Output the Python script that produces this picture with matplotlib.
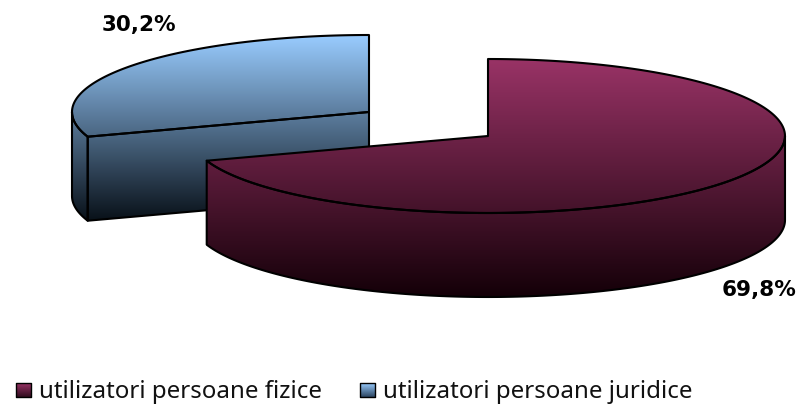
import numpy as np
import matplotlib
matplotlib.use("Agg")
import matplotlib.pyplot as plt
from matplotlib.colors import LinearSegmentedColormap
from matplotlib.patches import Polygon

# chart values
categories = ["utilizatori persoane fizice", "utilizatori persoane juridice"]
shares = [69.8, 30.2]
share_labels = ["69,8%", "30,2%"]

RX, RY, DEPTH = 297, 77, 84

def arc(cx, cy, a0, a1):
    # angles in degrees, clockwise from the top of the pie
    t = np.radians(np.linspace(a0, a1, 200))
    return np.column_stack([cx + RX*np.sin(t), cy - RY*np.cos(t)])

def fill_gradient(ax, pts, top_color, bottom_color, z):
    # vertical gradient clipped to the shape
    cmap = LinearSegmentedColormap.from_list("g", [top_color, bottom_color])
    ymin, ymax = pts[:, 1].min(), pts[:, 1].max()
    xmin, xmax = pts[:, 0].min(), pts[:, 0].max()
    im = ax.imshow(np.linspace(0, 1, 256).reshape(-1, 1), cmap=cmap, aspect="auto", zorder=z,
                   extent=(xmin, xmax, ymax, ymin), interpolation="bilinear")
    im.set_clip_path(Polygon(pts, closed=True, transform=ax.transData))

def outline(ax, pts, z, lw=1.5):
    ax.add_patch(Polygon(pts, closed=True, fill=False, edgecolor="black", lw=lw, joinstyle="round", zorder=z))

fig = plt.figure(figsize=(8, 4.04), dpi=100)
ax = fig.add_axes([0, 0, 1, 1])

end_angle = shares[0] / 100 * 360

# blue slice (pulled away up and left)
bx, by = 369, 112
top_b = np.vstack([[bx, by], arc(bx, by, end_angle, 360)])
rim_b = arc(bx, by, end_angle, 270)
rim_shape = np.vstack([rim_b, rim_b[::-1] + [0, DEPTH]])
cut_b = np.array([[bx, by], top_b[1], top_b[1] + [0, DEPTH], [bx, by + DEPTH]])
all_b = np.vstack([arc(bx, by, 270, 360), [[bx, by + DEPTH]], rim_b + [0, DEPTH]])
fill_gradient(ax, all_b, "#99ccff", "#081018", 1)
outline(ax, top_b, 2)
outline(ax, rim_shape, 2)
outline(ax, cut_b, 2)

# magenta slice drawn over the blue one
mx, my = 488, 136
top_m = np.vstack([[mx, my], arc(mx, my, 0, end_angle)])
rim_m = arc(mx, my, 90, end_angle)
side_m = np.vstack([rim_m, rim_m[::-1] + [0, DEPTH]])
all_m = np.vstack([[mx, my], arc(mx, my, 0, 90), rim_m + [0, DEPTH], rim_m[-1:]])
fill_gradient(ax, all_m, "#993366", "#140008", 3)
outline(ax, side_m, 4)
outline(ax, top_m, 4)

# percentage labels
ax.text(759, 290, share_labels[0], ha="center", va="center", fontsize=15.5, fontweight="bold",
        family="DejaVu Sans", color="black", zorder=6)
ax.text(139, 25, share_labels[1], ha="center", va="center", fontsize=15.5, fontweight="bold",
        family="DejaVu Sans", color="black", zorder=6)

# legend
for x0, name, colors in [(16, categories[0], ("#993366", "#300c1e")),
                         (360, categories[1], ("#99ccff", "#2c4560"))]:
    sq = np.array([[x0, 383], [x0 + 15, 383], [x0 + 15, 397], [x0, 397]], dtype=float)
    fill_gradient(ax, sq, colors[0], colors[1], 5)
    outline(ax, sq, 6, lw=1.0)
    ax.text(x0 + 23, 398, name, ha="left", va="baseline", fontsize=17.3, family="Noto Sans",
            color="#111111", zorder=6)

ax.set_xlim(0, 800)
ax.set_ylim(404, 0)
ax.axis("off")
fig.savefig("out.png", dpi=100)
